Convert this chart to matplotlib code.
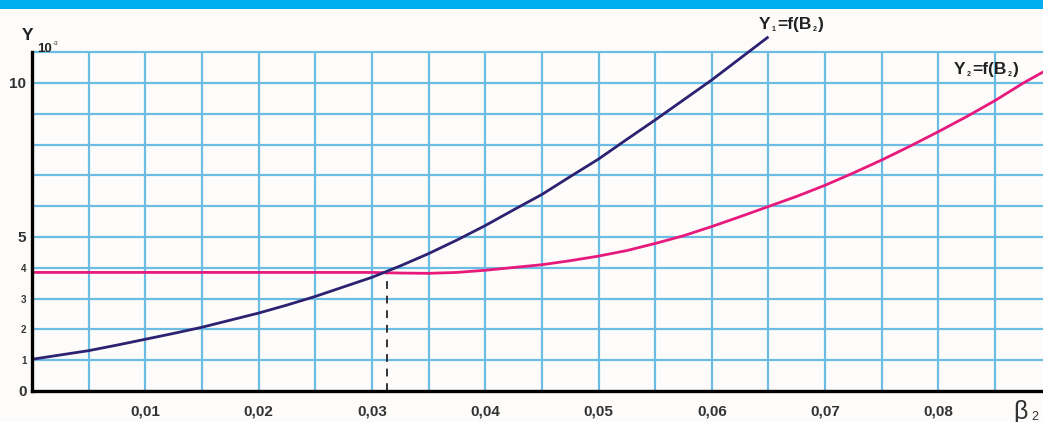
import matplotlib
matplotlib.use("Agg")
import matplotlib.pyplot as plt
from matplotlib.patches import Rectangle

plt.rcParams['font.family'] = ['Liberation Sans', 'DejaVu Sans']

# ---- data ----
b2_y1 = [0.0, 0.0025, 0.005, 0.0075, 0.01, 0.0125, 0.015, 0.0175, 0.02, 0.0225,
         0.025, 0.0275, 0.03, 0.0325, 0.035, 0.0375, 0.04, 0.0425, 0.045, 0.0475,
         0.05, 0.0525, 0.055, 0.0575, 0.06, 0.0625, 0.065]
y1 = [1.03, 1.17, 1.31, 1.49, 1.68, 1.87, 2.07, 2.30, 2.53, 2.79,
      3.07, 3.38, 3.69, 4.06, 4.46, 4.90, 5.37, 5.88, 6.38, 6.96,
      7.53, 8.17, 8.80, 9.45, 10.10, 10.80, 11.50]

b2_y2 = [0.0, 0.01, 0.02, 0.03, 0.0325, 0.035, 0.0375, 0.04, 0.0425, 0.045,
         0.0475, 0.05, 0.0525, 0.055, 0.0575, 0.06, 0.0625, 0.065, 0.0675, 0.07,
         0.0725, 0.075, 0.0775, 0.08, 0.0825, 0.085, 0.0875, 0.0893]
y2 = [3.85, 3.85, 3.85, 3.85, 3.83, 3.82, 3.85, 3.92, 4.01, 4.10,
      4.23, 4.38, 4.56, 4.79, 5.04, 5.34, 5.66, 5.99, 6.32, 6.68,
      7.08, 7.50, 7.95, 8.42, 8.91, 9.43, 10.00, 10.37]

x_cross = 0.0313
y_cross = 3.85

x_ticks = [0.01, 0.02, 0.03, 0.04, 0.05, 0.06, 0.07, 0.08]
x_tick_labels = ['0,01', '0,02', '0,03', '0,04', '0,05', '0,06', '0,07', '0,08']
y_ticks = [0, 1, 2, 3, 4, 5, 10]
y_tick_labels = ['0', '1', '2', '3', '4', '5', '10']
x_grid = [0.005 * i for i in range(1, 18)]
y_grid = list(range(1, 12))

W, H = 1043, 422
BG = '#fdfcfa'
GRID = '#6cbde4'
TXT = '#222222'

fig = plt.figure(figsize=(W / 100, H / 100), dpi=100, facecolor=BG)
fig.patches.append(Rectangle((0, 1 - 9 / H), 1, 9 / H, transform=fig.transFigure,
                             facecolor='#00adef', edgecolor='none', zorder=0))

ax = fig.add_axes([32 / W, 31 / H, 1 - 32 / W, (391 - 10) / H])
ax.set_facecolor(BG)
xmax = (W - 32) / 11330.0
ax.set_xlim(0, xmax)
ax.set_ylim(0, (391 - 10) / 30.8)

# grid (bounded to 0..11)
ax.vlines(x_grid, 0, 11, colors=GRID, lw=1.6, zorder=1)
ax.hlines(y_grid, 0, xmax, colors=GRID, lw=1.6, zorder=1)

# curves
ax.plot(b2_y2, y2, color='#e8197d', lw=2.0, zorder=3, solid_capstyle='butt')
ax.plot(b2_y1, y1, color='#2d2171', lw=2.0, zorder=4, solid_capstyle='butt')
ax.plot([x_cross, x_cross], [0, y_cross], color='#333333', lw=1.4,
        dashes=(4, 3.5), zorder=2)

# spines
for s in ['top', 'right']:
    ax.spines[s].set_visible(False)
ax.spines['left'].set_bounds(0, 11)
ax.spines['left'].set_linewidth(2.4)
ax.spines['bottom'].set_linewidth(2.4)
ax.spines['left'].set_zorder(5)
ax.spines['bottom'].set_zorder(5)

ax.set_xticks(x_ticks)
ax.set_xticklabels(x_tick_labels, fontsize=11, fontweight='bold', color='#333333')
ax.set_yticks(y_ticks)
ax.set_yticklabels(y_tick_labels, fontweight='bold', color='#333333')
for lab, v in zip(ax.get_yticklabels(), y_ticks):
    if v in (0, 5, 10):
        lab.set_fontsize(11)
    else:
        lab.set_fontsize(7)
ax.tick_params(axis='x', length=0, pad=10)
ax.tick_params(axis='y', length=0, pad=4)

renderer = fig.canvas.get_renderer()


def px(x, y):
    return x / W, 1 - y / H


def draw_pieces(x0, base, pieces, gap=1.2):
    """pieces: (text, fontsize, weight, dy_px) drawn left to right."""
    x = x0
    for text, size, weight, dy in pieces:
        t = fig.text(*px(x, base + dy), text, fontsize=size, fontweight=weight,
                     color=TXT, ha='left', va='baseline')
        bb = t.get_window_extent(renderer)
        x += bb.width + gap


# curve labels
draw_pieces(759, 29, [('Y', 12.5, 'bold', 0), ('1', 5, 'bold', 2),
                      ('=f(B', 12.5, 'bold', 0), ('2', 5, 'bold', 2),
                      (')', 12.5, 'bold', 0)])
draw_pieces(954, 74, [('Y', 12.5, 'bold', 0), ('2', 5, 'bold', 2),
                      ('=f(B', 12.5, 'bold', 0), ('2', 5, 'bold', 2),
                      (')', 12.5, 'bold', 0)])

# axis titles
fig.text(*px(22, 40), 'Y', fontsize=12.5, fontweight='bold', color=TXT,
         ha='left', va='baseline')
fig.text(*px(37, 52), '10', fontsize=9.5, fontweight='bold', color=TXT,
         ha='left', va='baseline')
fig.text(*px(53, 45), '-3', fontsize=4.5, color=TXT, ha='left', va='baseline')
fig.text(*px(1013, 419), 'β', fontsize=18, color='#333333', ha='left', va='baseline')
fig.text(*px(1031, 420), '2', fontsize=9, color='#333333', ha='left', va='baseline')

fig.savefig('out.png', dpi=100, facecolor=BG)
